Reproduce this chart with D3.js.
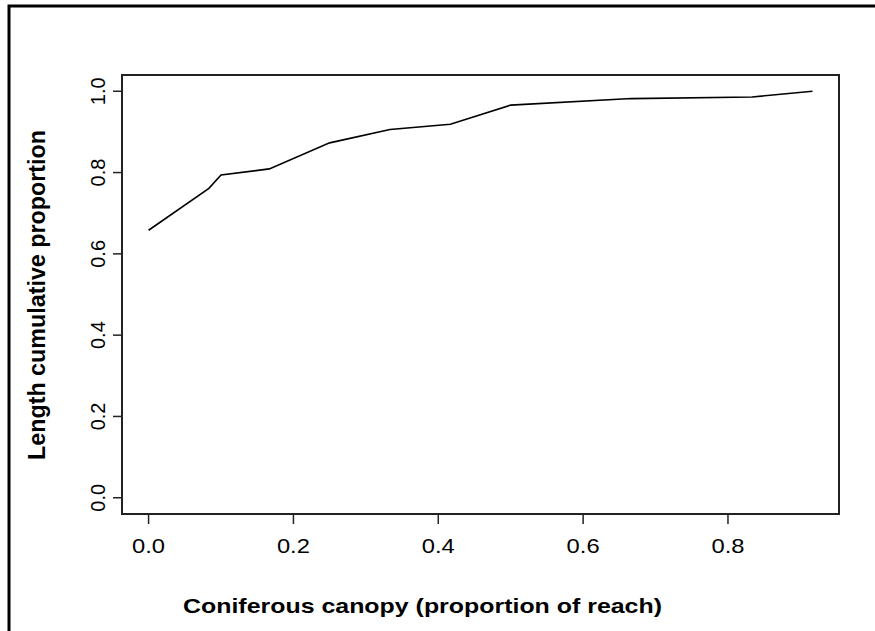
<!DOCTYPE html>
<html>
<head>
<meta charset="utf-8">
<script src="https://cdn.jsdelivr.net/npm/d3@7/dist/d3.min.js"></script>
<style>
  html, body { margin: 0; padding: 0; background: #fff; }
  svg { display: block; }
  text { font-family: "Liberation Sans", Arial, sans-serif; fill: #000; }
</style>
</head>
<body>
<svg id="chart" width="875" height="631"></svg>
<script>
// Data
const canopy = [0, 0.0833, 0.1, 0.1667, 0.25, 0.3333, 0.4167, 0.5, 0.6667, 0.8333, 0.9167];
const cumProportion = [0.658, 0.761, 0.794, 0.809, 0.873, 0.906, 0.919, 0.966, 0.982, 0.986, 1.0];
const xTicks = [0, 0.2, 0.4, 0.6, 0.8];
const yTicks = [0, 0.2, 0.4, 0.6, 0.8, 1.0];
const xTitle = "Coniferous canopy (proportion of reach)";
const yTitle = "Length cumulative proportion";

const svg = d3.select("#chart");
const W = 875, H = 631;
const box = { left: 122, right: 839, top: 75, bottom: 514 };

// outer frame (left and top edges visible)
svg.append("path")
  .attr("d", `M9,${H} L9,6 L${W},6`)
  .attr("fill", "none").attr("stroke", "#000").attr("stroke-width", 3);

const x = d3.scaleLinear().domain([-0.0367, 0.9533]).range([box.left, box.right]);
const y = d3.scaleLinear().domain([-0.04, 1.04]).range([box.bottom, box.top]);

// plot box
svg.append("rect")
  .attr("x", box.left).attr("y", box.top)
  .attr("width", box.right - box.left).attr("height", box.bottom - box.top)
  .attr("fill", "none").attr("stroke", "#222").attr("stroke-width", 2);

// x axis ticks
const xAxis = svg.append("g");
xTicks.forEach(t => {
  xAxis.append("line")
    .attr("x1", x(t)).attr("x2", x(t))
    .attr("y1", box.bottom).attr("y2", box.bottom + 10)
    .attr("stroke", "#222").attr("stroke-width", 1.5);
  xAxis.append("text")
    .attr("x", x(t)).attr("y", 553)
    .attr("text-anchor", "middle")
    .attr("font-size", 21)
    .attr("textLength", 33).attr("lengthAdjust", "spacingAndGlyphs")
    .text(d3.format(".1f")(t));
});

// y axis ticks
const yAxis = svg.append("g");
yTicks.forEach(t => {
  yAxis.append("line")
    .attr("x1", box.left - 9).attr("x2", box.left)
    .attr("y1", y(t)).attr("y2", y(t))
    .attr("stroke", "#222").attr("stroke-width", 1.5);
  yAxis.append("text")
    .attr("transform", `translate(105,${y(t)}) rotate(-90)`)
    .attr("text-anchor", "middle")
    .attr("font-size", 20)
    .text(d3.format(".1f")(t));
});

// line
const line = d3.line().x((d, i) => x(canopy[i])).y(d => y(d));
svg.append("path")
  .datum(cumProportion)
  .attr("d", line)
  .attr("fill", "none").attr("stroke", "#000").attr("stroke-width", 1.6);

// titles
svg.append("text")
  .attr("x", 422.5).attr("y", 613)
  .attr("text-anchor", "middle")
  .attr("font-size", 21).attr("font-weight", "bold")
  .attr("textLength", 479).attr("lengthAdjust", "spacingAndGlyphs")
  .text(xTitle);

svg.append("text")
  .attr("transform", `translate(45,295) rotate(-90)`)
  .attr("text-anchor", "middle")
  .attr("font-size", 23).attr("font-weight", "bold")
  .attr("textLength", 330).attr("lengthAdjust", "spacingAndGlyphs")
  .text(yTitle);
</script>
</body>
</html>
